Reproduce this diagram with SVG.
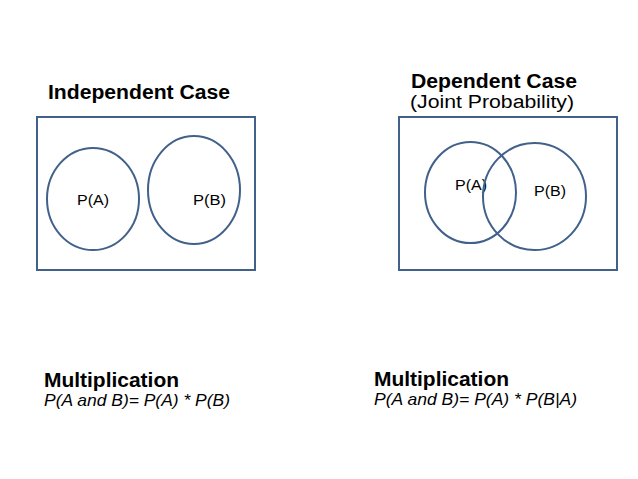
<svg xmlns="http://www.w3.org/2000/svg" width="638" height="479" viewBox="0 0 638 479">
<style>
.box{fill:none;stroke:#41618a;stroke-width:2}
.c{fill:none;stroke:#41618a;stroke-width:2}
.t{font-family:"Liberation Sans",Arial,sans-serif;fill:#000}
.h{font-weight:bold;font-size:20px}
.l{font-size:14.5px}
.f{font-style:italic;font-size:17px}
.s{font-size:18px}
</style>
<rect width="638" height="479" fill="#fff"/>
<g id="independent">
<text class="t h" x="48" y="99" textLength="182" lengthAdjust="spacingAndGlyphs">Independent Case</text>
<rect id="box-left" class="box" x="37" y="117" width="218" height="153"/>
<g id="A1"><ellipse class="c" cx="93" cy="199" rx="46" ry="51"/><text class="t l" x="77" y="205" textLength="32" lengthAdjust="spacingAndGlyphs">P(A)</text></g>
<g id="B1"><ellipse class="c" cx="194" cy="190" rx="46" ry="54"/><text class="t l" x="193" y="205" textLength="33" lengthAdjust="spacingAndGlyphs">P(B)</text></g>
</g>
<g id="dependent">
<text class="t h" x="411" y="88" textLength="166" lengthAdjust="spacingAndGlyphs">Dependent Case</text>
<text class="t s" x="410" y="108" textLength="164" lengthAdjust="spacingAndGlyphs">(Joint Probability)</text>
<rect id="box-right" class="box" x="399" y="117" width="218" height="153"/>
<g id="A2"><ellipse class="c" cx="470.5" cy="192.5" rx="45.5" ry="50.5"/><text class="t l" x="455" y="190" textLength="32" lengthAdjust="spacingAndGlyphs">P(A)</text></g>
<g id="B2"><ellipse class="c" cx="534.5" cy="196.5" rx="51.5" ry="53.5"/><text class="t l" x="534" y="196" textLength="32" lengthAdjust="spacingAndGlyphs">P(B)</text></g>
</g>
<g id="formula-left">
<text class="t h" x="44" y="387" textLength="135" lengthAdjust="spacingAndGlyphs">Multiplication</text>
<text class="t f" x="44" y="406" textLength="186" lengthAdjust="spacingAndGlyphs">P(A and B)= P(A) * P(B)</text>
</g>
<g id="formula-right">
<text class="t h" x="374" y="386" textLength="135" lengthAdjust="spacingAndGlyphs">Multiplication</text>
<text class="t f" x="374" y="405" textLength="203" lengthAdjust="spacingAndGlyphs">P(A and B)= P(A) * P(B|A)</text>
</g>
<g id="connectors"/>
</svg>
